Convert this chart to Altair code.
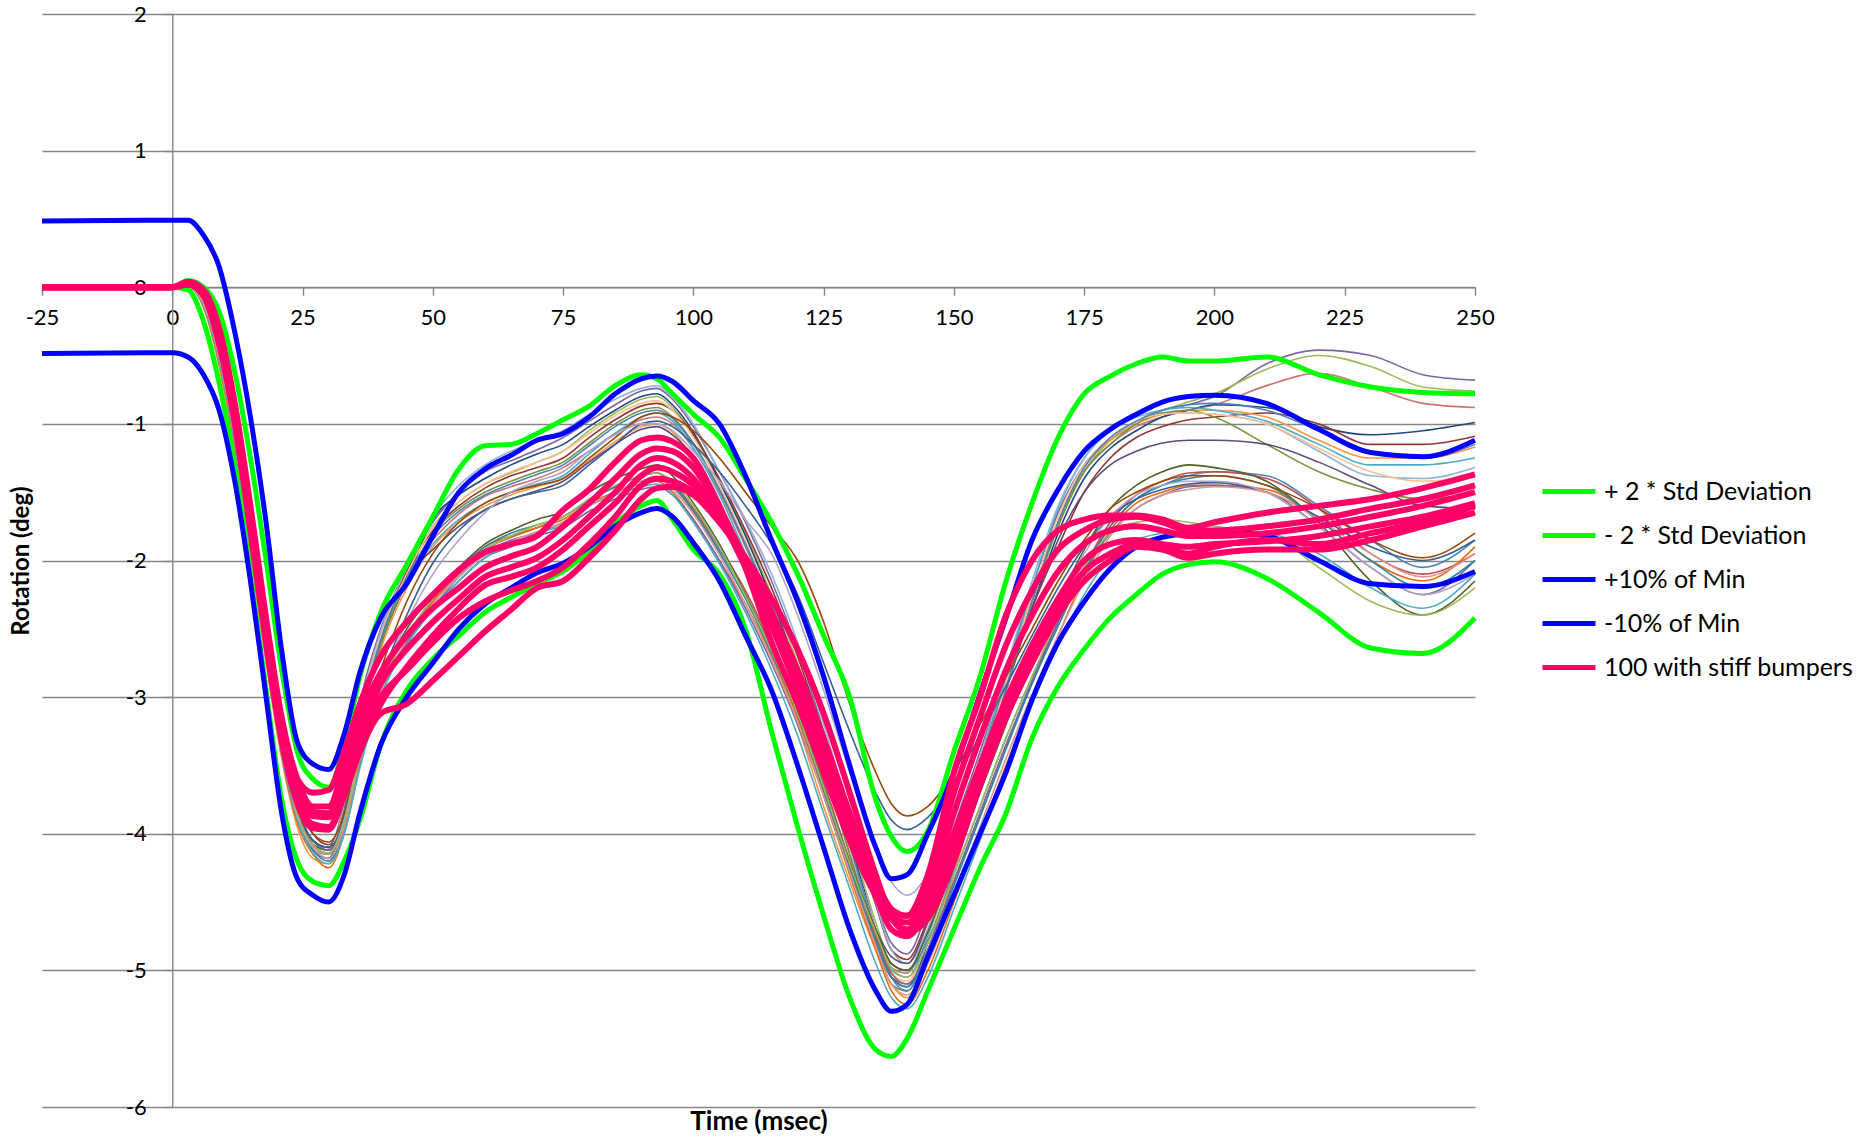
import altair as alt
import pandas as pd

# ---------------- data ----------------
T = [-25, 0, 3, 6, 9, 12, 15, 18, 21, 24, 27, 30, 33, 36, 40, 45, 50, 55, 60, 65,
     70, 75, 80, 85, 90, 93, 96, 100, 105, 110, 115, 120, 125, 130, 135, 138, 141, 145, 150, 155,
     160, 165, 170, 175, 180, 185, 190, 195, 200, 210, 220, 230, 240, 250]

PLUS_2SD = [0, 0, 0.05, 0.0, -0.18, -0.62, -1.25, -2.0, -2.8, -3.4, -3.6, -3.66, -3.35, -2.85, -2.38,
            -2.03, -1.68, -1.33, -1.16, -1.15, -1.07, -0.97, -0.87, -0.72, -0.64, -0.67, -0.78, -0.93, -1.1, -1.4,
            -1.72, -2.1, -2.55, -3.0, -3.75, -4.02, -4.13, -3.98, -3.4, -2.85, -2.15, -1.58, -1.1, -0.78, -0.65,
            -0.56, -0.51, -0.54, -0.54, -0.51, -0.64, -0.73, -0.77, -0.78]
MINUS_2SD = [0, 0, -0.02, -0.25, -0.7, -1.3, -2.1, -2.95, -3.75, -4.2, -4.35, -4.38, -4.2, -3.9, -3.35,
             -2.95, -2.72, -2.55, -2.38, -2.27, -2.17, -2.08, -1.93, -1.73, -1.6, -1.56, -1.7, -1.92, -2.1, -2.5,
             -3.25, -3.95, -4.6, -5.2, -5.58, -5.63, -5.5, -5.15, -4.7, -4.25, -3.85, -3.3, -2.92, -2.65, -2.42,
             -2.25, -2.1, -2.03, -2.01, -2.13, -2.38, -2.64, -2.68, -2.42]
PLUS_10 = [0.485, 0.49, 0.49, 0.38, 0.15, -0.33, -0.95, -1.72, -2.66, -3.33, -3.49, -3.53, -3.27, -2.82, -2.42,
           -2.17, -1.82, -1.5, -1.33, -1.23, -1.12, -1.07, -0.95, -0.78, -0.67, -0.65, -0.69, -0.83, -1.0, -1.38,
           -1.85, -2.3, -2.85, -3.5, -4.1, -4.33, -4.3, -4.0, -3.55, -2.98, -2.42, -1.85, -1.48, -1.2, -1.04,
           -0.93, -0.84, -0.8, -0.79, -0.85, -1.04, -1.21, -1.24, -1.12]
MINUS_10 = [-0.485, -0.48, -0.51, -0.64, -0.9, -1.42, -2.15, -3.0, -3.85, -4.33, -4.45, -4.5, -4.3, -3.85, -3.35,
            -3.0, -2.75, -2.5, -2.32, -2.2, -2.09, -2.02, -1.9, -1.75, -1.65, -1.62, -1.68, -1.87, -2.15, -2.55,
            -2.95, -3.5, -4.1, -4.7, -5.15, -5.3, -5.25, -4.9, -4.45, -4.0, -3.55, -3.02, -2.6, -2.3, -2.06,
            -1.9, -1.83, -1.8, -1.79, -1.82, -2.0, -2.17, -2.19, -2.08]

STIFF = [
    [0, 0, 0.03, -0.05, -0.38, -0.95, -1.7, -2.5, -3.2, -3.6, -3.7, -3.68, -3.4, -3.05, -2.7, -2.45, -2.25, -2.07,
     -1.94, -1.88, -1.82, -1.63, -1.48, -1.28, -1.12, -1.1, -1.13, -1.25, -1.6, -2.05, -2.6, -3.05, -3.55, -4.05,
     -4.45, -4.6, -4.6, -4.3, -3.55, -3.0, -2.4, -2.0, -1.78, -1.7, -1.67, -1.67, -1.7, -1.76, -1.72, -1.65, -1.6,
     -1.55, -1.47, -1.37],
    [0, 0, 0.04, -0.02, -0.3, -0.85, -1.6, -2.42, -3.15, -3.6, -3.8, -3.8, -3.5, -3.15, -2.82, -2.55, -2.35, -2.2,
     -2.05, -1.97, -1.9, -1.75, -1.58, -1.4, -1.22, -1.18, -1.2, -1.32, -1.62, -2.0, -2.45, -2.9, -3.4, -3.9, -4.35,
     -4.55, -4.6, -4.35, -3.7, -3.15, -2.62, -2.22, -1.92, -1.78, -1.7, -1.68, -1.72, -1.78, -1.78, -1.75, -1.7,
     -1.62, -1.55, -1.45],
    [0, 0, 0.03, -0.04, -0.35, -0.92, -1.68, -2.5, -3.22, -3.68, -3.87, -3.88, -3.6, -3.25, -2.9, -2.65, -2.45,
     -2.28, -2.12, -2.05, -1.98, -1.85, -1.68, -1.5, -1.3, -1.25, -1.28, -1.4, -1.68, -2.05, -2.48, -2.95, -3.45,
     -3.95, -4.42, -4.62, -4.65, -4.45, -3.85, -3.3, -2.8, -2.4, -2.08, -1.88, -1.78, -1.75, -1.78, -1.82, -1.82,
     -1.8, -1.75, -1.68, -1.6, -1.5],
    [0, 0, 0.02, -0.06, -0.4, -0.98, -1.75, -2.58, -3.3, -3.75, -3.93, -3.95, -3.7, -3.38, -3.05, -2.78, -2.55,
     -2.35, -2.18, -2.12, -2.05, -1.92, -1.75, -1.58, -1.38, -1.32, -1.35, -1.45, -1.68, -2.0, -2.38, -2.8, -3.3,
     -3.85, -4.38, -4.62, -4.7, -4.5, -4.0, -3.5, -3.02, -2.62, -2.28, -2.0, -1.88, -1.85, -1.88, -1.9, -1.88,
     -1.86, -1.82, -1.75, -1.68, -1.58],
    [0, 0, 0.02, -0.06, -0.42, -1.0, -1.78, -2.6, -3.32, -3.78, -3.96, -3.97, -3.72, -3.4, -3.12, -3.05, -2.88,
     -2.7, -2.52, -2.36, -2.2, -2.15, -1.98, -1.78, -1.55, -1.47, -1.46, -1.52, -1.72, -1.98, -2.28, -2.65, -3.12,
     -3.7, -4.3, -4.6, -4.72, -4.62, -4.2, -3.65, -3.15, -2.75, -2.4, -2.15, -2.0, -1.9, -1.92, -1.98, -1.95,
     -1.92, -1.92, -1.85, -1.75, -1.65],
    [0, 0, 0.03, -0.03, -0.33, -0.9, -1.65, -2.47, -3.2, -3.65, -3.84, -3.85, -3.58, -3.28, -3.0, -2.8, -2.6,
     -2.42, -2.3, -2.22, -2.15, -2.05, -1.88, -1.68, -1.45, -1.4, -1.42, -1.5, -1.7, -2.02, -2.4, -2.85, -3.35,
     -3.9, -4.45, -4.7, -4.75, -4.55, -4.1, -3.6, -3.1, -2.7, -2.35, -2.08, -1.95, -1.88, -1.9, -1.95, -1.9,
     -1.85, -1.88, -1.8, -1.72, -1.6],
]

TESTS = [
    [0, 0, 0.01, -0.1, -0.48, -1.05, -1.8, -2.6, -3.3, -3.82, -4.05, -4.12, -3.75, -3.05, -2.5, -2.05,
     -1.72, -1.5, -1.35, -1.27, -1.19, -1.1, -0.98, -0.86, -0.76, -0.74, -0.82, -1.02, -1.35, -1.72, -2.15, -2.65, -3.25, -3.92, -4.5,
     -4.8, -4.88, -4.55, -3.95, -3.4, -2.8, -2.2, -1.65, -1.3, -1.12, -1.0, -0.9, -0.86, -0.8, -0.56, -0.46, -0.5, -0.64, -0.68],
    [0, 0, 0.0, -0.12, -0.52, -1.12, -1.88, -2.68, -3.38, -3.88, -4.1, -4.15, -3.82, -3.15, -2.6, -2.12,
     -1.75, -1.57, -1.44, -1.36, -1.28, -1.2, -1.05, -0.92, -0.82, -0.8, -0.88, -1.08, -1.42, -1.8, -2.25, -2.75, -3.35, -4.0, -4.65,
     -4.95, -5.0, -4.7, -4.1, -3.5, -2.9, -2.3, -1.75, -1.35, -1.12, -0.98, -0.9, -0.84, -0.78, -0.6, -0.5, -0.58, -0.73, -0.76],
    [0, 0, 0.01, -0.1, -0.45, -1.02, -1.75, -2.55, -3.25, -3.8, -4.05, -4.1, -3.78, -3.1, -2.55, -2.1,
     -1.85, -1.66, -1.53, -1.46, -1.4, -1.32, -1.2, -1.07, -0.97, -0.95, -1.0, -1.18, -1.5, -1.9, -2.35, -2.85, -3.45, -4.1, -4.7,
     -4.98, -5.02, -4.7, -4.1, -3.45, -2.85, -2.25, -1.72, -1.35, -1.15, -1.02, -0.95, -0.9, -0.86, -0.72, -0.63, -0.73, -0.85, -0.88],
    [0, 0, 0.0, -0.14, -0.55, -1.15, -1.92, -2.72, -3.42, -3.9, -4.12, -4.18, -3.85, -3.2, -2.62, -2.15,
     -1.7, -1.52, -1.4, -1.3, -1.22, -1.15, -1.02, -0.9, -0.8, -0.78, -0.86, -1.06, -1.42, -1.82, -2.28, -2.8, -3.4, -4.05, -4.7,
     -5.05, -5.12, -4.8, -4.2, -3.55, -2.95, -2.35, -1.8, -1.4, -1.18, -1.05, -0.95, -0.9, -0.86, -0.88, -1.02, -1.08, -1.05, -0.99],
    [0, 0, 0.02, -0.08, -0.42, -1.0, -1.72, -2.52, -3.22, -3.75, -4.0, -4.08, -3.8, -3.12, -2.55, -2.08,
     -1.78, -1.6, -1.47, -1.38, -1.32, -1.25, -1.1, -0.97, -0.87, -0.85, -0.9, -1.08, -1.4, -1.78, -2.2, -2.7, -3.28, -3.92, -4.52,
     -4.85, -4.92, -4.62, -4.05, -3.45, -2.9, -2.35, -1.9, -1.5, -1.25, -1.1, -1.02, -0.97, -0.95, -0.92, -1.0, -1.15, -1.15, -1.09],
    [0, 0, 0.0, -0.15, -0.58, -1.2, -1.95, -2.75, -3.45, -3.95, -4.18, -4.22, -3.9, -3.22, -2.65, -2.2,
     -1.9, -1.72, -1.6, -1.52, -1.46, -1.4, -1.27, -1.13, -1.02, -1.0, -1.06, -1.25, -1.6, -2.1, -2.65, -3.2, -3.8, -4.35, -4.85,
     -5.1, -5.2, -4.9, -4.3, -3.6, -2.95, -2.3, -1.72, -1.32, -1.12, -1.0, -0.93, -0.9, -0.9, -0.95, -1.12, -1.25, -1.25, -1.17],
    [0, 0, 0.0, -0.12, -0.5, -1.1, -1.85, -2.65, -3.35, -3.85, -4.08, -4.12, -3.82, -3.18, -2.6, -2.15,
     -1.88, -1.7, -1.58, -1.5, -1.44, -1.38, -1.22, -1.07, -0.95, -0.92, -0.98, -1.18, -1.52, -1.95, -2.42, -2.92, -3.52, -4.15, -4.72,
     -5.0, -5.05, -4.75, -4.15, -3.5, -2.85, -2.2, -1.62, -1.25, -1.05, -0.95, -0.9, -0.88, -0.9, -0.98, -1.15, -1.3, -1.3, -1.25],
    [0, 0, 0.01, -0.1, -0.46, -1.05, -1.8, -2.6, -3.3, -3.82, -4.05, -4.1, -3.78, -3.1, -2.52, -2.05,
     -1.68, -1.45, -1.3, -1.2, -1.12, -1.05, -0.93, -0.82, -0.74, -0.72, -0.8, -1.0, -1.35, -1.7, -2.1, -2.6, -3.2, -3.85, -4.5,
     -4.85, -4.95, -4.7, -4.1, -3.45, -2.8, -2.15, -1.6, -1.25, -1.05, -0.95, -0.92, -0.92, -0.93, -1.0, -1.2, -1.38, -1.4, -1.32],
    [0, 0, 0.0, -0.13, -0.53, -1.13, -1.9, -2.7, -3.4, -3.9, -4.12, -4.15, -3.85, -3.2, -2.62, -2.15,
     -1.8, -1.62, -1.5, -1.42, -1.35, -1.28, -1.14, -1.0, -0.9, -0.88, -0.95, -1.14, -1.48, -1.88, -2.35, -2.88, -3.5, -4.15, -4.78,
     -5.1, -5.15, -4.85, -4.25, -3.6, -2.95, -2.3, -1.75, -1.35, -1.15, -1.0, -0.92, -0.9, -0.95, -1.15, -1.35, -1.48, -1.55, -1.5],
    [0, 0, 0.01, -0.09, -0.44, -1.02, -1.76, -2.56, -3.27, -3.8, -4.05, -4.1, -3.8, -3.15, -2.58, -2.12,
     -1.92, -1.75, -1.63, -1.55, -1.49, -1.42, -1.28, -1.15, -1.04, -1.02, -1.08, -1.25, -1.62, -2.08, -2.6, -3.15, -3.7, -4.25, -4.7,
     -4.9, -4.95, -4.65, -4.1, -3.5, -2.92, -2.35, -1.85, -1.5, -1.3, -1.2, -1.14, -1.12, -1.12, -1.15, -1.28, -1.45, -1.6, -1.62],
    [0, 0, 0.0, -0.11, -0.49, -1.08, -1.84, -2.64, -3.34, -3.85, -4.08, -4.12, -3.8, -3.12, -2.55, -2.1,
     -1.76, -1.57, -1.44, -1.35, -1.28, -1.2, -1.07, -0.94, -0.85, -0.83, -0.9, -1.1, -1.45, -1.86, -2.32, -2.85, -3.45, -4.1, -4.7,
     -5.02, -5.08, -4.78, -4.2, -3.55, -2.9, -2.25, -1.68, -1.3, -1.1, -0.98, -0.93, -0.92, -0.93, -1.0, -1.18, -1.35, -1.42, -1.38],
    [0, 0, 0.01, -0.1, -0.47, -1.06, -1.82, -2.62, -3.32, -3.84, -4.08, -4.15, -3.82, -3.15, -2.58, -2.12,
     -1.82, -1.64, -1.52, -1.44, -1.37, -1.3, -1.16, -1.02, -0.92, -0.9, -0.96, -1.15, -1.48, -1.88, -2.32, -2.82, -3.42, -4.08, -4.72,
     -5.05, -5.15, -4.85, -4.25, -3.6, -2.95, -2.3, -1.72, -1.32, -1.1, -0.98, -0.9, -0.86, -0.85, -0.9, -1.05, -1.2, -1.25, -1.15],
    [0, 0, 0.0, -0.12, -0.5, -1.1, -1.86, -2.66, -3.36, -3.86, -4.1, -4.18, -3.95, -3.45, -2.95, -2.6,
     -2.35, -2.12, -1.95, -1.85, -1.8, -1.72, -1.6, -1.5, -1.42, -1.4, -1.46, -1.64, -1.92, -2.25, -2.65, -3.1, -3.65, -4.2, -4.7,
     -4.95, -5.0, -4.78, -4.3, -3.8, -3.3, -2.85, -2.45, -2.05, -1.75, -1.55, -1.45, -1.38, -1.35, -1.38, -1.6, -1.85, -2.05, -1.85],
    [0, 0, 0.01, -0.1, -0.47, -1.06, -1.82, -2.62, -3.32, -3.84, -4.08, -4.15, -3.92, -3.4, -2.9, -2.55,
     -2.3, -2.1, -1.92, -1.83, -1.76, -1.68, -1.56, -1.46, -1.38, -1.36, -1.43, -1.62, -1.9, -2.22, -2.62, -3.08, -3.62, -4.2, -4.75,
     -5.02, -5.1, -4.85, -4.35, -3.85, -3.35, -2.9, -2.45, -2.05, -1.72, -1.52, -1.42, -1.36, -1.35, -1.4, -1.62, -1.95, -2.1, -1.95],
    [0, 0, 0.0, -0.14, -0.56, -1.16, -1.93, -2.73, -3.43, -3.92, -4.15, -4.25, -4.0, -3.5, -3.0, -2.58,
     -2.3, -2.08, -1.9, -1.82, -1.76, -1.7, -1.58, -1.5, -1.44, -1.42, -1.5, -1.7, -2.0, -2.32, -2.7, -3.15, -3.72, -4.3, -4.85,
     -5.15, -5.25, -5.0, -4.5, -4.0, -3.5, -3.0, -2.55, -2.12, -1.78, -1.58, -1.5, -1.45, -1.45, -1.48, -1.7, -2.0, -2.15, -1.9],
    [0, 0, 0.0, -0.11, -0.49, -1.08, -1.84, -2.64, -3.34, -3.85, -4.08, -4.12, -3.9, -3.38, -2.88, -2.5,
     -2.25, -2.05, -1.88, -1.78, -1.7, -1.64, -1.5, -1.4, -1.33, -1.3, -1.38, -1.58, -1.88, -2.25, -2.65, -3.12, -3.65, -4.22, -4.7,
     -4.95, -5.0, -4.72, -4.22, -3.7, -3.2, -2.72, -2.3, -1.92, -1.62, -1.45, -1.35, -1.3, -1.32, -1.42, -1.72, -2.15, -2.4, -2.15],
    [0, 0, 0.01, -0.09, -0.45, -1.04, -1.78, -2.58, -3.28, -3.8, -4.05, -4.12, -3.92, -3.42, -2.95, -2.6,
     -2.35, -2.15, -1.98, -1.9, -1.82, -1.76, -1.64, -1.55, -1.48, -1.46, -1.52, -1.7, -2.0, -2.35, -2.75, -3.2, -3.72, -4.28, -4.8,
     -5.05, -5.1, -4.85, -4.35, -3.85, -3.35, -2.88, -2.45, -2.08, -1.8, -1.62, -1.52, -1.46, -1.45, -1.5, -1.75, -2.05, -2.25, -2.0],
    [0, 0, 0.0, -0.13, -0.52, -1.12, -1.89, -2.69, -3.39, -3.88, -4.12, -4.2, -3.96, -3.45, -2.92, -2.55,
     -2.28, -2.06, -1.9, -1.8, -1.74, -1.68, -1.56, -1.46, -1.38, -1.36, -1.44, -1.64, -1.94, -2.28, -2.68, -3.12, -3.68, -4.25, -4.78,
     -5.05, -5.12, -4.88, -4.38, -3.88, -3.38, -2.9, -2.48, -2.08, -1.75, -1.55, -1.45, -1.4, -1.38, -1.45, -1.7, -2.0, -2.2, -2.0],
    [0, 0, 0.02, -0.07, -0.4, -0.98, -1.7, -2.5, -3.2, -3.75, -4.0, -4.06, -3.85, -3.3, -2.8, -2.3,
     -1.95, -1.72, -1.58, -1.5, -1.45, -1.4, -1.25, -1.1, -0.95, -0.92, -0.95, -1.05, -1.25, -1.5, -1.75, -2.0, -2.45, -3.05, -3.55,
     -3.78, -3.87, -3.8, -3.55, -3.2, -2.85, -2.5, -2.15, -1.85, -1.62, -1.5, -1.42, -1.38, -1.38, -1.45, -1.62, -1.85, -1.98, -1.8],
    [0, 0, 0.01, -0.09, -0.45, -1.03, -1.76, -2.56, -3.26, -3.8, -4.05, -4.1, -3.9, -3.38, -2.88, -2.4,
     -2.02, -1.78, -1.63, -1.55, -1.5, -1.45, -1.3, -1.15, -1.0, -0.98, -1.02, -1.15, -1.35, -1.6, -1.88, -2.25, -2.75, -3.25, -3.7,
     -3.9, -3.97, -3.88, -3.62, -3.28, -2.92, -2.55, -2.2, -1.9, -1.68, -1.55, -1.48, -1.44, -1.43, -1.5, -1.68, -1.9, -2.0, -1.85],
    [0, 0, 0.0, -0.12, -0.5, -1.1, -1.86, -2.66, -3.36, -3.86, -4.1, -4.15, -3.9, -3.4, -2.9, -2.45,
     -2.1, -1.85, -1.65, -1.5, -1.42, -1.35, -1.2, -1.08, -1.0, -1.0, -1.05, -1.2, -1.42, -1.7, -1.95, -2.4, -2.95, -3.55, -4.1,
     -4.35, -4.45, -4.3, -3.95, -3.55, -3.1, -2.7, -2.3, -1.95, -1.68, -1.52, -1.45, -1.42, -1.42, -1.5, -1.75, -2.05, -2.25, -2.1],
    [0, 0, 0.0, -0.13, -0.54, -1.14, -1.91, -2.71, -3.41, -3.9, -4.14, -4.22, -4.0, -3.52, -3.0, -2.62,
     -2.36, -2.15, -1.98, -1.88, -1.8, -1.74, -1.6, -1.52, -1.46, -1.44, -1.52, -1.72, -2.02, -2.38, -2.8, -3.28, -3.85, -4.4, -4.95,
     -5.2, -5.28, -5.05, -4.55, -4.05, -3.55, -3.05, -2.62, -2.25, -1.98, -1.85, -1.8, -1.78, -1.78, -1.8, -1.95, -2.2, -2.35, -2.1],
    [0, 0, 0.0, -0.12, -0.51, -1.11, -1.87, -2.67, -3.37, -3.87, -4.1, -4.18, -3.95, -3.45, -2.96, -2.58,
     -2.32, -2.12, -1.96, -1.86, -1.79, -1.72, -1.6, -1.5, -1.42, -1.4, -1.48, -1.66, -1.96, -2.32, -2.72, -3.18, -3.72, -4.28, -4.82,
     -5.1, -5.18, -4.95, -4.45, -3.95, -3.45, -2.98, -2.55, -2.15, -1.82, -1.62, -1.52, -1.48, -1.46, -1.5, -1.7, -1.95, -2.12, -1.95],
    [0, 0, 0.0, -0.1, -0.48, -1.07, -1.83, -2.63, -3.33, -3.85, -4.08, -4.14, -3.92, -3.42, -2.92, -2.55,
     -2.28, -2.08, -1.92, -1.82, -1.74, -1.68, -1.55, -1.45, -1.38, -1.36, -1.42, -1.6, -1.9, -2.26, -2.66, -3.12, -3.66, -4.22, -4.72,
     -4.98, -5.05, -4.8, -4.3, -3.8, -3.3, -2.85, -2.42, -2.05, -1.8, -1.72, -1.7, -1.72, -1.75, -1.8, -2.05, -2.3, -2.4, -2.2],
]
TEST_COLORS = ["#8064A2", "#9BBB59", "#CD7371", "#1F497D", "#943634", "#F79646",
               "#4BACC6", "#93B3D7", "#77933C", "#604A7B", "#FAC090", "#4F81BD",
               "#4F81BD", "#C0504D", "#E46C0A", "#4F6228", "#8064A2", "#31859C",
               "#984807", "#376092", "#B3A2C7", "#4BACC6", "#D99694", "#9BBB59"]

SERIES = ["+ 2 * Std Deviation", "- 2 * Std Deviation", "+10% of Min", "-10% of Min", "100 with stiff bumpers"]
SERIES_COLORS = ["#00FF00", "#00FF00", "#0000FF", "#0000FF", "#FF0066"]
X_TICKS = [-25, 0, 25, 50, 75, 100, 125, 150, 175, 200, 225, 250]
Y_TICKS = [-6, -5, -4, -3, -2, -1, 0, 1, 2]

# ---------------- tidy tables ----------------
def frame(values, series, line):
    assert len(values) == len(T), (series, line, len(values))
    return pd.DataFrame({"t": T, "v": values, "series": series, "line": line})

thin_df = pd.concat([frame(v, "test", f"test{i:02d}") for i, v in enumerate(TESTS)])
green_df = pd.concat([frame(PLUS_2SD, SERIES[0], "g1"), frame(MINUS_2SD, SERIES[1], "g2")])
blue_df = pd.concat([frame(PLUS_10, SERIES[2], "b1"), frame(MINUS_10, SERIES[3], "b2")])
pink_df = pd.concat([frame(v, SERIES[4], f"p{i}") for i, v in enumerate(STIFF)])

# ---------------- layout ----------------
W, H = 1433, 1093
X_OFF = -H * 6 / 8          # x axis sits on y = 0
Y_OFF = -W * 25 / 275       # y axis sits on t = 0

x_enc = alt.X("t:Q", scale=alt.Scale(domain=[-25, 250], nice=False, zero=False),
              axis=alt.Axis(values=X_TICKS, orient="bottom", offset=X_OFF, grid=False,
                            tickSize=8, labelPadding=12, labelExpr="'' + datum.value",
                            labelOverlap=False, labelFlush=False,
                            title="Time (msec)", titleY=842, titleBaseline="alphabetic",
                            titleFontSize=26))
y_enc = alt.Y("v:Q", scale=alt.Scale(domain=[-6, 2], nice=False, zero=False),
              axis=alt.Axis(values=Y_TICKS, orient="left", offset=Y_OFF, grid=True,
                            tickSize=8, labelPadding=18, labelExpr="'' + datum.value",
                            labelOverlap=False, labelFlush=False,
                            title="Rotation (deg)", titleX=-144, titleAngle=270,
                            titleBaseline="alphabetic", titleFontSize=24))

color_scale = alt.Scale(domain=SERIES, range=SERIES_COLORS)
legend = alt.Legend(title=None, orient="none", legendX=1498, legendY=465,
                    symbolType="stroke", symbolSize=2809, symbolStrokeWidth=5,
                    labelFont="Lato", labelFontSize=25, labelColor="black", labelOffset=6,
                    clipHeight=25, rowPadding=18, padding=0, labelLimit=400)

thin = alt.Chart(thin_df).mark_line(strokeWidth=1.6, interpolate="monotone").encode(
    x=x_enc, y=y_enc,
    stroke=alt.Stroke("line:N", scale=alt.Scale(domain=[f"test{i:02d}" for i in range(len(TESTS))],
                                                  range=TEST_COLORS), legend=None))

def thick(df, width):
    return alt.Chart(df).mark_line(strokeWidth=width, interpolate="monotone").encode(
        x=x_enc, y=y_enc,
        color=alt.Color("series:N", scale=color_scale, legend=legend),
        detail="line:N")

chart = alt.layer(thin, thick(green_df, 5), thick(blue_df, 5), thick(pink_df, 6)).properties(
    width=W, height=H,
    padding={"left": 42, "top": 14, "right": 1864 - 42 - W, "bottom": 1139 - 14 - H},
    autosize=alt.AutoSizeParams(type="none"),
    background="white",
).configure_view(stroke=None).configure_axis(
    labelFont="Lato", labelFontSize=22, labelColor="black",
    titleFont="Lato", titleFontWeight="bold", titleColor="black",
    domainColor="#868686", domainWidth=1.4, tickColor="#868686", tickWidth=1.4,
    gridColor="#868686", gridWidth=1.4, gridOpacity=1,
)

chart.save("out.html", embed_options={"renderer": "svg", "actions": False})
